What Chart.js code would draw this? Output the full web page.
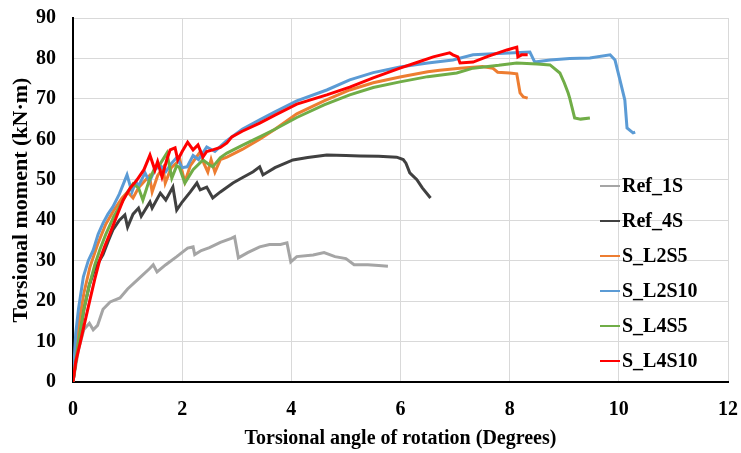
<!DOCTYPE html>
<html>
<head>
<meta charset="utf-8">
<script src="https://cdn.jsdelivr.net/npm/chart.js@4.4.1/dist/chart.umd.min.js"></script>
<style>
  html, body { margin: 0; padding: 0; background: #fff; }
  #wrap { position: relative; width: 741px; height: 453px; }
  #legend { position: absolute; left: 600px; top: 168px; font-family: 'Liberation Serif', 'Times New Roman', serif; font-weight: bold; font-size: 20px; color: #000; }
  #legend .item { display: flex; align-items: center; height: 35px; }
  #legend .swatch { width: 20px; height: 2px; margin-right: 2px; }
</style>
</head>
<body>
<div id="wrap">
  <canvas id="c" width="741" height="453"></canvas>
  <div id="legend"></div>
</div>
<script>
// ---- Data ----
const xTicks = [0, 2, 4, 6, 8, 10, 12];
const yTicks = [0, 10, 20, 30, 40, 50, 60, 70, 80, 90];
const seriesNames = ['Ref_1S', 'Ref_4S', 'S_L2S5', 'S_L2S10', 'S_L4S5', 'S_L4S10'];
const seriesColors = ['#A5A5A5', '#404040', '#ED7D31', '#5B9BD5', '#70AD47', '#FF0000'];

const ref1S = [[0,0],[0.1,8],[0.2,13],[0.3,14.5],[0.37,12.9],[0.45,14],[0.55,18],[0.68,19.8],[0.86,20.8],[1.0,23],[1.2,25.5],[1.4,28],[1.47,29],[1.54,27.2],[1.7,29],[1.9,31],[2.1,33.1],[2.2,33.4],[2.23,31.5],[2.35,32.5],[2.5,33.2],[2.7,34.5],[2.9,35.5],[2.96,35.9],[3.03,30.7],[3.2,32],[3.42,33.4],[3.6,34],[3.8,34],[3.92,34.4],[3.99,29.7],[4.1,31],[4.4,31.4],[4.6,32],[4.8,31],[5.0,30.5],[5.15,29],[5.4,29],[5.6,28.8],[5.77,28.6]];
const ref4S = [[0,0],[0.1,10],[0.2,18],[0.3,24],[0.4,28],[0.55,31.5],[0.65,35],[0.73,37.6],[0.85,40],[0.95,41.3],[1.0,38.3],[1.1,41.5],[1.2,43],[1.25,41],[1.41,44.5],[1.45,43],[1.6,46.7],[1.7,45],[1.83,48.2],[1.9,42.5],[2.0,44.5],[2.15,47],[2.27,49.2],[2.33,47.5],[2.45,48.2],[2.56,45.5],[2.7,47],[2.93,49.2],[3.1,50.5],[3.3,52],[3.42,53.2],[3.48,51.2],[3.7,53],[4.03,54.9],[4.3,55.5],[4.65,56.1],[5.0,56],[5.26,55.9],[5.6,55.8],[5.93,55.6],[6.05,55],[6.1,54.1],[6.17,51.7],[6.3,50],[6.4,48],[6.55,45.5]];
const sL2S5 = [[0,0],[0.1,14],[0.2,22],[0.31,28.4],[0.45,34],[0.6,39],[0.75,42.5],[0.9,45.5],[1.0,47],[1.1,45.5],[1.2,48],[1.3,49.5],[1.4,51],[1.45,47],[1.55,51],[1.65,53],[1.69,49.2],[1.8,53],[1.96,54.9],[2.0,52],[2.05,49.5],[2.15,53.5],[2.33,56.9],[2.4,54],[2.47,51.9],[2.53,55],[2.6,51.9],[2.7,55],[2.82,55.6],[3.1,57.5],[3.42,60],[3.7,62.5],[4.1,66.3],[4.6,69.5],[5.07,72.2],[5.5,74],[5.99,75.4],[6.5,76.7],[6.72,77.1],[7.09,77.6],[7.5,78],[7.69,77.6],[7.78,76.6],[8.0,76.4],[8.13,76.2],[8.19,71.5],[8.25,70.5],[8.33,70.2]];
const sL2S10 = [[0,0],[0.05,12],[0.1,18],[0.19,26],[0.28,30],[0.37,32.6],[0.46,36.5],[0.55,39.3],[0.64,41.5],[0.73,43.3],[0.85,46.5],[0.99,51.2],[1.08,47],[1.15,49.5],[1.2,48.5],[1.32,51.7],[1.4,49.5],[1.5,52.5],[1.6,53.5],[1.7,52],[1.8,54],[1.9,55.5],[2.0,53],[2.09,53.2],[2.2,56],[2.3,55],[2.45,58.1],[2.6,57],[2.8,59.5],[3.1,62.5],[3.42,64.8],[3.7,66.8],[4.1,69.5],[4.65,72.2],[5.07,74.7],[5.5,76.5],[5.99,77.9],[6.5,78.9],[6.96,79.6],[7.33,80.9],[7.8,81.2],[8.37,81.6],[8.46,79.1],[8.74,79.6],[9.1,80],[9.47,80.1],[9.84,80.9],[9.93,79.6],[10.02,74.7],[10.11,69.7],[10.15,62.8],[10.26,61.6],[10.3,61.8]];
const sL4S5 = [[0,0],[0.1,10],[0.2,18],[0.3,24],[0.4,29],[0.5,33],[0.6,36.5],[0.75,41],[0.9,44.5],[1.0,47],[1.1,49],[1.2,48],[1.28,45],[1.4,50],[1.5,53],[1.6,54],[1.72,56.6],[1.81,50.4],[1.9,53.5],[1.95,53],[2.05,49.2],[2.2,52.5],[2.38,54.9],[2.5,53.7],[2.56,53.2],[2.7,55.5],[2.82,56.6],[3.1,58.5],[3.42,60.6],[3.7,62.5],[4.1,65.4],[4.6,68.5],[5.07,71],[5.5,72.8],[5.99,74.2],[6.5,75.5],[7.03,76.4],[7.33,77.6],[7.8,78.3],[8.13,78.9],[8.5,78.6],[8.74,78.4],[8.92,76.4],[9.0,74],[9.07,71.5],[9.1,70.2],[9.14,68],[9.19,65.3],[9.3,65],[9.47,65.3]];
const sL4S10 = [[0,0],[0.05,5],[0.13,9.6],[0.22,15],[0.31,20.3],[0.4,25.5],[0.49,30.2],[0.58,33.5],[0.68,36.8],[0.8,41],[0.92,45],[1.05,48],[1.17,49.9],[1.3,52.5],[1.41,56.1],[1.5,52.4],[1.55,54.5],[1.63,50.7],[1.72,55],[1.78,57.4],[1.87,57.9],[1.92,54.9],[2.0,57],[2.1,59.3],[2.2,57.4],[2.29,58.6],[2.38,55.6],[2.45,57],[2.56,57.4],[2.7,58],[2.82,59.1],[2.91,60.6],[3.1,62],[3.42,64],[3.7,66],[4.1,68.7],[4.65,71],[5.07,72.9],[5.5,75.2],[5.99,77.6],[6.3,79],[6.6,80.4],[6.9,81.4],[6.96,80.9],[7.05,80.4],[7.09,78.9],[7.33,79.1],[7.6,80.5],[7.95,82.1],[8.13,82.8],[8.15,80.4],[8.22,80.9],[8.33,80.9]];

const seriesData = [ref1S, ref4S, sL2S5, sL2S10, sL4S5, sL4S10];

// ---- Chart ----
const FONT = "'Liberation Serif', 'Times New Roman', serif";
const GRID = '#D9D9D9';
const datasets = seriesData.map((pts, i) => ({
  label: seriesNames[i],
  data: pts.map(p => ({ x: p[0], y: p[1] })),
  borderColor: seriesColors[i],
  backgroundColor: seriesColors[i],
  borderWidth: 3,
  pointRadius: 0,
  showLine: true,
  tension: 0,
  order: seriesData.length - i
}));

new Chart(document.getElementById('c'), {
  type: 'scatter',
  data: { datasets },
  options: {
    responsive: false,
    animation: false,
    layout: { padding: { top: 18, right: 13, left: 0, bottom: 0 } },
    plugins: { legend: { display: false }, tooltip: { enabled: false } },
    scales: {
      x: {
        type: 'linear',
        min: xTicks[0], max: xTicks[xTicks.length - 1],
        afterFit: s => { s.height = 71; },
        grid: { display: true, drawOnChartArea: true, color: GRID, lineWidth: 1, drawTicks: true, tickLength: 16, tickColor: 'rgba(0,0,0,0)' },
        border: { display: true, color: '#000', width: 2 },
        ticks: { stepSize: xTicks[1] - xTicks[0], padding: 0, color: '#000', font: { family: FONT, size: 20, weight: 'bold' } },
        title: { display: true, text: 'Torsional angle of rotation (Degrees)', color: '#000', padding: { top: 0, bottom: 2 }, font: { family: FONT, size: 20, weight: 'bold' } }
      },
      y: {
        type: 'linear',
        min: yTicks[0], max: yTicks[yTicks.length - 1],
        afterFit: s => { s.width = 73; },
        grid: { display: true, drawOnChartArea: true, color: GRID, lineWidth: 1, drawTicks: true, tickLength: 17, tickColor: 'rgba(0,0,0,0)' },
        border: { display: true, color: '#000', width: 2 },
        ticks: { stepSize: yTicks[1] - yTicks[0], padding: 0, color: '#000', font: { family: FONT, size: 20, weight: 'bold' } },
        title: { display: true, text: 'Torsional moment (kN·m)', color: '#000', padding: { top: 8, bottom: 0 }, font: { family: FONT, size: 22, weight: 'bold' } }
      }
    }
  }
});

// HTML legend inside the plot area
const legendEl = document.getElementById('legend');
seriesNames.forEach((name, i) => {
  const item = document.createElement('div');
  item.className = 'item';
  const sw = document.createElement('span');
  sw.className = 'swatch';
  sw.style.background = seriesColors[i];
  const tx = document.createElement('span');
  tx.textContent = name;
  item.appendChild(sw);
  item.appendChild(tx);
  legendEl.appendChild(item);
});
</script>
</body>
</html>
